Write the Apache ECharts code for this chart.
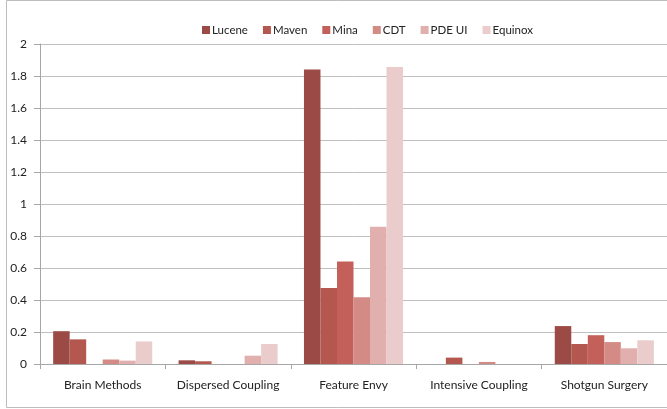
<!DOCTYPE html>
<html>
<head>
<meta charset="utf-8">
<script src="https://cdn.jsdelivr.net/npm/echarts@6/dist/echarts.min.js"></script>
<style>
  html, body { margin: 0; padding: 0; background: #fff; }
  #chart { width: 667px; height: 409px; }
</style>
</head>
<body>
<div id="chart"></div>
<script>
// Code smells per project, grouped by smell type
const categories = ['Brain Methods', 'Dispersed Coupling', 'Feature Envy', 'Intensive Coupling', 'Shotgun Surgery'];
const projects = ['Lucene', 'Maven', 'Mina', 'CDT', 'PDE UI', 'Equinox'];
const lucene  = [0.205, 0.023, 1.84, 0,     0.237];
const maven   = [0.154, 0.017, 0.475, 0.04, 0.125];
const mina    = [0,     0,     0.64, 0,     0.18];
const cdt     = [0.028, 0,     0.417, 0.013, 0.137];
const pdeUi   = [0.021, 0.052, 0.858, 0,     0.098];
const equinox = [0.141, 0.125, 1.856, 0,     0.148];
const yTicks = [0, 0.2, 0.4, 0.6, 0.8, 1, 1.2, 1.4, 1.6, 1.8, 2];

const seriesValues = [lucene, maven, mina, cdt, pdeUi, equinox];
const colors = ['#9b4a45', '#b3574f', '#c4605a', '#d48a85', '#e0afae', '#ebcccc'];

const chart = echarts.init(document.getElementById('chart'), null, { renderer: 'canvas' });
const fontFamily = 'Lato, "Open Sans", sans-serif';

chart.setOption({
  animation: false,
  color: colors,
  textStyle: { fontFamily: fontFamily },
  graphic: [{
    type: 'rect',
    shape: { x: 6.5, y: 0.5, width: 700, height: 407 },
    style: { fill: 'none', stroke: '#bdbdbd', lineWidth: 1 },
    silent: true
  }],
  legend: {
    data: projects,
    left: 197,
    top: 19,
    itemWidth: 8,
    itemHeight: 8,
    itemGap: 15,
    icon: 'rect',
    textStyle: { fontSize: 11.5, color: '#222', fontFamily: fontFamily, padding: [0, 0, 0, -3] }
  },
  grid: { left: 40, top: 44, width: 632, bottom: 45, containLabel: false },
  xAxis: {
    type: 'category',
    data: categories,
    axisLine: { lineStyle: { color: '#a6a6a6', width: 1 } },
    axisTick: { show: true, length: 5, alignWithLabel: false, lineStyle: { color: '#a6a6a6' } },
    axisLabel: { margin: 15, fontSize: 12, color: '#222', fontFamily: fontFamily, interval: 0 }
  },
  yAxis: {
    type: 'value',
    min: 0,
    max: 2,
    interval: 0.2,
    axisLine: { show: true, lineStyle: { color: '#a6a6a6', width: 1 } },
    axisTick: { show: true, length: 6, lineStyle: { color: '#a6a6a6' } },
    axisLabel: {
      margin: 13,
      fontSize: 12,
      color: '#222',
      fontFamily: fontFamily,
      formatter: v => {
        const t = yTicks.find(x => Math.abs(x - v) < 1e-9);
        return t === undefined ? '' : String(t);
      }
    },
    splitLine: { show: true, lineStyle: { color: '#bfbfbf', width: 1 } }
  },
  series: projects.map((name, i) => ({
    name: name,
    type: 'bar',
    data: seriesValues[i],
    barGap: '0%',
    barCategoryGap: '21%',
    itemStyle: { color: colors[i] }
  }))
});
</script>
</body>
</html>
